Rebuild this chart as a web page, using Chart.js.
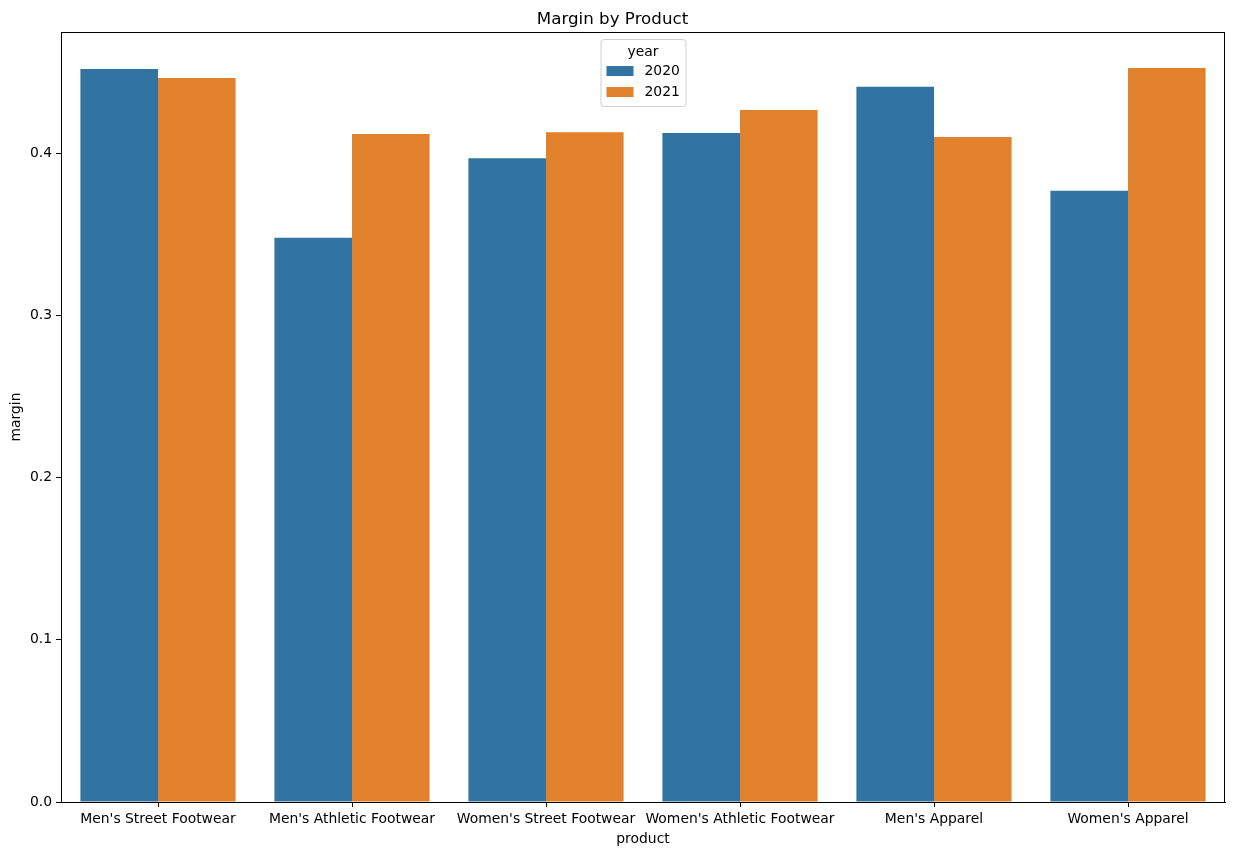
<!DOCTYPE html>
<html>
<head>
<meta charset="utf-8">
<title>Margin by Product</title>
<script src="https://cdn.jsdelivr.net/npm/chart.js@4.4.0/dist/chart.umd.min.js"></script>
<style>
  body { margin: 0; background: #fff; }
  .chart-box { width: 1233px; height: 855px; }
</style>
</head>
<body>
<div class="chart-box"><canvas id="marginChart"></canvas></div>
<script>
const products = ["Men's Street Footwear", "Men's Athletic Footwear", "Women's Street Footwear",
  "Women's Athletic Footwear", "Men's Apparel", "Women's Apparel"];
const years = ["2020", "2021"];
const margin2020 = [0.452, 0.348, 0.397, 0.4125, 0.441, 0.377];
const margin2021 = [0.4464, 0.412, 0.413, 0.4267, 0.410, 0.4526];
const yTicks = [0.0, 0.1, 0.2, 0.3, 0.4];

const FONT = "'DejaVu Sans', sans-serif";

// matplotlib style frame round the plot area
const frame = {
  id: "frame",
  afterDatasetsDraw(chart){
    const a = chart.chartArea;
    const ctx = chart.ctx;
    ctx.save();
    ctx.strokeStyle = "#000";
    ctx.lineWidth = 1;
    ctx.strokeRect(Math.round(a.left) + 0.5, Math.round(a.top) + 0.5,
      Math.round(a.right - a.left) - 1, Math.round(a.bottom - a.top));
    ctx.restore();
  }
};

// seaborn legend box, upper center inside the axes
const yearLegend = {
  id: "yearLegend",
  afterDraw(chart){
    const a = chart.chartArea;
    const ctx = chart.ctx;
    const w = 85, h = 67;
    const x = (a.left + a.right) / 2 - w / 2;
    const y = a.top + 7;
    ctx.save();
    ctx.fillStyle = "rgba(255,255,255,0.8)";
    ctx.strokeStyle = "#d0d0d0";
    ctx.lineWidth = 1;
    ctx.beginPath();
    ctx.roundRect(x + 0.5, y + 0.5, w, h, 3);
    ctx.fill();
    ctx.stroke();

    ctx.fillStyle = "#000";
    ctx.font = "13.9px " + FONT;
    ctx.textAlign = "center";
    ctx.textBaseline = "middle";
    ctx.fillText("year", x + w / 2, y + 13);

    ctx.textAlign = "left";
    chart.data.datasets.forEach((ds, i) => {
      const rowY = y + 32 + i * 21;
      ctx.fillStyle = ds.backgroundColor;
      ctx.fillRect(x + 6, rowY - 5, 27, 10);
      ctx.fillStyle = "#000";
      ctx.fillText(ds.label, x + 44, rowY);
    });
    ctx.restore();
  }
};

new Chart(document.getElementById("marginChart"), {
  type: "bar",
  data: {
    labels: products,
    datasets: [
      { label: years[0], data: margin2020, backgroundColor: "#3274a1" },
      { label: years[1], data: margin2021, backgroundColor: "#e1812c" }
    ]
  },
  options: {
    responsive: true,
    maintainAspectRatio: false,
    devicePixelRatio: 1,
    animation: false,
    datasets: {
      bar: { categoryPercentage: 0.8, barPercentage: 1.0 }
    },
    layout: { padding: { left: 0, right: 8, top: 0, bottom: 0 } },
    plugins: {
      legend: { display: false },
      tooltip: { enabled: false },
      title: {
        display: true,
        text: "Margin by Product",
        color: "#000",
        font: { family: FONT, size: 16.7, weight: "normal" },
        padding: { top: 10, bottom: 2 }
      }
    },
    scales: {
      x: {
        afterFit(scale){ scale.height = 53; },
        grid: { display: true, drawOnChartArea: false, drawTicks: true, tickLength: 5, color: "#000", offset: false },
        border: { display: true, color: "#000" },
        ticks: { color: "#000", padding: 4, font: { family: FONT, size: 13.9 }, maxRotation: 0, autoSkip: false },
        title: {
          display: true, text: "product", color: "#000",
          font: { family: FONT, size: 13.9 }, padding: { top: 7, bottom: 7 }
        }
      },
      y: {
        min: 0,
        max: 0.4748,
        afterFit(scale){ scale.width = 61; },
        afterBuildTicks(scale){ scale.ticks = yTicks.map(v => ({ value: v })); },
        grid: { display: true, drawOnChartArea: false, drawTicks: true, tickLength: 5, color: "#000" },
        border: { display: true, color: "#000" },
        ticks: {
          color: "#000", padding: 4, font: { family: FONT, size: 13.9 },
          callback: v => Number(v).toFixed(1)
        },
        title: {
          display: true, text: "margin", color: "#000",
          font: { family: FONT, size: 13.9 }, padding: { top: 8, bottom: 8 }
        }
      }
    }
  },
  plugins: [frame, yearLegend]
});
</script>
</body>
</html>
